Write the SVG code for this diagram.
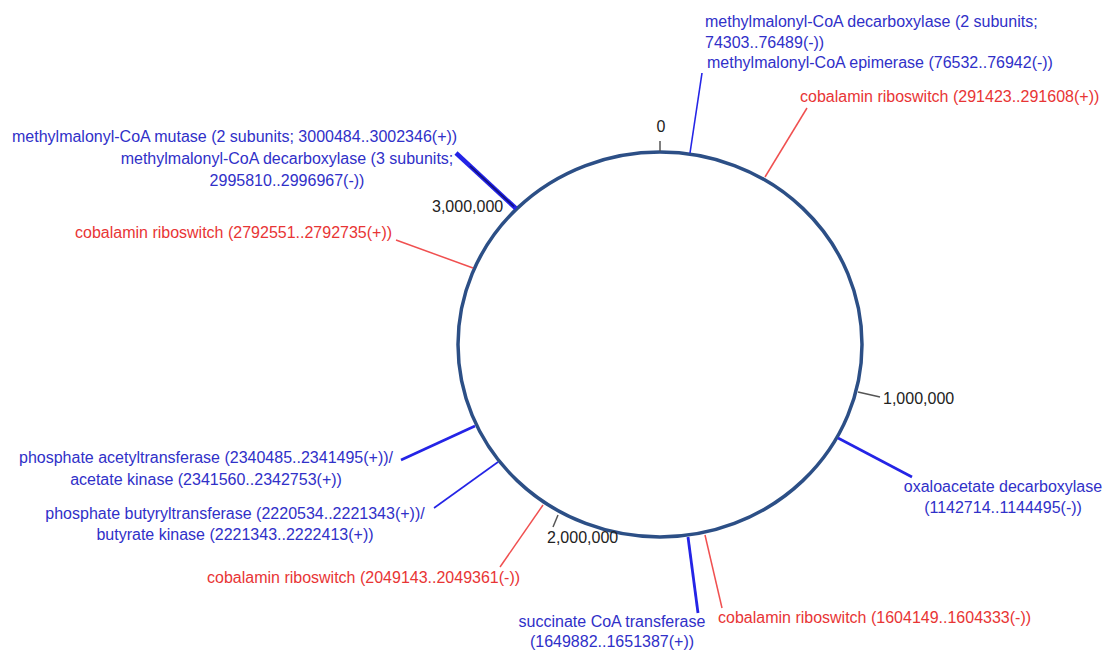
<svg xmlns="http://www.w3.org/2000/svg" width="1104" height="653" viewBox="0 0 1104 653">
  <style>
    text { font-family: "Liberation Sans", Arial, sans-serif; font-size: 16px; }
    .gene { fill: #3030C8; }
    .rs { fill: #E83535; }
    .num { fill: #222222; }
    .mid { text-anchor: middle; }
    .ln-gene { stroke: #2424E6; fill: none; stroke-linecap: butt; }
    .ln-rs { stroke: #F05050; fill: none; stroke-width: 1.5; }
    .tick { stroke: #555555; stroke-width: 1.5; fill: none; }
  </style>
  <rect width="1104" height="653" fill="#ffffff"/>

  <!-- chromosome map -->
  <g id="genome">
    <ellipse cx="660" cy="344.5" rx="202" ry="192.5" fill="#ffffff" stroke="#2C4F86" stroke-width="3.5"/>
  </g>

  <!-- feature connectors and scale ticks -->
  <g id="connectors">
    <line class="tick" x1="660" y1="151" x2="660" y2="141"/>
    <line class="tick" x1="858" y1="392" x2="880" y2="397"/>
    <line class="tick" x1="558" y1="515" x2="553" y2="527"/>

    <line class="ln-gene" stroke-width="1.6" x1="690" y1="153" x2="702" y2="73"/>
    <line class="ln-rs" x1="765" y1="177" x2="807" y2="108"/>
    <line class="ln-gene" stroke-width="4.5" x1="516" y1="208.5" x2="456" y2="153"/>
    <line stroke="#10107A" stroke-width="1.6" x1="514" y1="206.5" x2="470" y2="166"/>
    <line class="ln-rs" x1="473" y1="268" x2="396" y2="240"/>
    <line class="ln-gene" stroke-width="2.6" x1="838" y1="438" x2="912" y2="477"/>
    <line class="ln-gene" stroke-width="2.8" x1="688" y1="537" x2="698" y2="613"/>
    <line class="ln-rs" stroke-width="1.8" x1="705" y1="535" x2="722" y2="608"/>
    <line class="ln-rs" x1="543" y1="505" x2="500" y2="567"/>
    <line class="ln-gene" stroke-width="1.6" x1="498" y1="462" x2="434" y2="508"/>
    <line class="ln-gene" stroke-width="2.6" x1="475" y1="426" x2="401" y2="460"/>
  </g>

  <!-- scale labels -->
  <g id="scale">
    <text class="num mid" x="661" y="132">0</text>
    <text class="num" x="883" y="404">1,000,000</text>
    <text class="num" x="547" y="543">2,000,000</text>
    <text class="num" x="432" y="212">3,000,000</text>
  </g>

  <g id="mmc-decarboxylase-epimerase">
    <text class="gene" x="705" y="27">methylmalonyl-CoA decarboxylase (2 subunits;</text>
    <text class="gene" x="705" y="48">74303..76489(-))</text>
    <text class="gene" x="707" y="68">methylmalonyl-CoA epimerase (76532..76942(-))</text>
  </g>

  <g id="riboswitch-291423">
    <text class="rs" x="800" y="102">cobalamin riboswitch (291423..291608(+))</text>
  </g>

  <g id="mmc-mutase">
    <text class="gene" x="12" y="142">methylmalonyl-CoA mutase (2 subunits; 3000484..3002346(+))</text>
  </g>

  <g id="mmc-decarboxylase-3">
    <text class="gene mid" x="287" y="164">methylmalonyl-CoA decarboxylase (3 subunits;</text>
    <text class="gene mid" x="287" y="186">2995810..2996967(-))</text>
  </g>

  <g id="riboswitch-2792551">
    <text class="rs" x="75" y="238">cobalamin riboswitch (2792551..2792735(+))</text>
  </g>

  <g id="oxaloacetate-decarboxylase">
    <text class="gene mid" x="1003" y="492">oxaloacetate decarboxylase</text>
    <text class="gene mid" x="1003" y="513">(1142714..1144495(-))</text>
  </g>

  <g id="phosphate-acetyltransferase">
    <text class="gene mid" x="206" y="463">phosphate acetyltransferase (2340485..2341495(+))/</text>
    <text class="gene mid" x="206" y="485">acetate kinase (2341560..2342753(+))</text>
  </g>

  <g id="phosphate-butyryltransferase">
    <text class="gene mid" x="235" y="519">phosphate butyryltransferase (2220534..2221343(+))/</text>
    <text class="gene mid" x="235" y="540">butyrate kinase (2221343..2222413(+))</text>
  </g>

  <g id="riboswitch-2049143">
    <text class="rs" x="207" y="583">cobalamin riboswitch (2049143..2049361(-))</text>
  </g>

  <g id="succinate-coa-transferase">
    <text class="gene mid" x="612" y="627">succinate CoA transferase</text>
    <text class="gene mid" x="612" y="647">(1649882..1651387(+))</text>
  </g>

  <g id="riboswitch-1604149">
    <text class="rs" x="718" y="623">cobalamin riboswitch (1604149..1604333(-))</text>
  </g>
</svg>
